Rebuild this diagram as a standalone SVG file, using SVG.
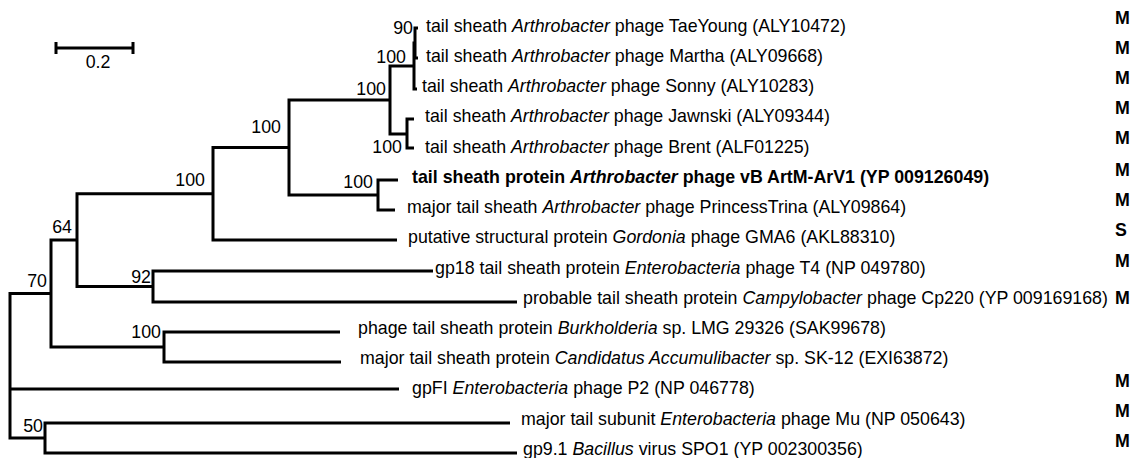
<svg xmlns="http://www.w3.org/2000/svg" width="1132" height="458" viewBox="0 0 1132 458">
<style>
text{font-family:"Liberation Sans",Arial,Helvetica,sans-serif;font-size:17.8px;fill:#000}
.n{text-anchor:end}
.m{font-weight:bold}
.i{font-style:italic}
.br{fill:none;stroke:#000;stroke-width:3;stroke-linejoin:miter}
</style>
<rect width="1132" height="458" fill="#fff"/>
<g id="scale">
<path class="br" d="M56,48 H133 M56,42 V54 M133,42 V54"/>
<text x="98" y="68" text-anchor="middle">0.2</text>
</g>
<g id="connectors">
<path class="br" d="M418,28 H415 V58 H418"/>
<path class="br" d="M415,43 H414 V89 H417"/>
<path class="br" d="M414,119 H407 V148 H414"/>
<path class="br" d="M414,66 H390 V134 H407"/>
<path class="br" d="M398,180 H378 V210 H395"/>
<path class="br" d="M390,100 H289 V195 H378"/>
<path class="br" d="M289,147.5 H213 V240 H397"/>
<path class="br" d="M433,271 H153 V302 H517"/>
<path class="br" d="M213,193.75 H77 V286.5 H153"/>
<path class="br" d="M340,332 H164 V362 H341"/>
<path class="br" d="M77,240 H51 V347 H164"/>
<path class="br" d="M510,423 H45 V453 H517"/>
<path class="br" d="M51,293.5 H10 V438 H45 M10,389 H399"/>
</g>
<g id="bootstrap">
<text class="n" x="413" y="34">90</text>
<text class="n" x="406" y="63">100</text>
<text class="n" x="386" y="95">100</text>
<text class="n" x="402" y="153">100</text>
<text class="n" x="281" y="133">100</text>
<text class="n" x="373" y="188">100</text>
<text class="n" x="205" y="186">100</text>
<text class="n" x="72" y="233">64</text>
<text class="n" x="151" y="283">92</text>
<text class="n" x="47" y="287">70</text>
<text class="n" x="161" y="338">100</text>
<text class="n" x="43" y="432">50</text>
</g>
<g id="leaf-taeyoung"><text x="426" y="31.5">tail sheath <tspan class="i">Arthrobacter</tspan> phage TaeYoung (ALY10472)</text></g>
<g id="leaf-martha"><text x="426" y="61.75">tail sheath <tspan class="i">Arthrobacter</tspan> phage Martha (ALY09668)</text></g>
<g id="leaf-sonny"><text x="422" y="92">tail sheath <tspan class="i">Arthrobacter</tspan> phage Sonny (ALY10283)</text></g>
<g id="leaf-jawnski"><text x="425" y="122.25">tail sheath <tspan class="i">Arthrobacter</tspan> phage Jawnski (ALY09344)</text></g>
<g id="leaf-brent"><text x="425" y="152.5">tail sheath <tspan class="i">Arthrobacter</tspan> phage Brent (ALF01225)</text></g>
<g id="leaf-arv1"><text class="m" x="412" y="182.75">tail sheath protein <tspan class="i">Arthrobacter</tspan> phage vB ArtM-ArV1 (YP 009126049)</text></g>
<g id="leaf-princesstrina"><text x="407" y="213">major tail sheath <tspan class="i">Arthrobacter</tspan> phage PrincessTrina (ALY09864)</text></g>
<g id="leaf-gma6"><text x="408" y="243.25">putative structural protein <tspan class="i">Gordonia</tspan> phage GMA6 (AKL88310)</text></g>
<g id="leaf-t4"><text x="435" y="273.5">gp18 tail sheath protein <tspan class="i">Enterobacteria</tspan> phage T4 (NP 049780)</text></g>
<g id="leaf-cp220"><text x="523" y="303.75">probable tail sheath protein <tspan class="i">Campylobacter</tspan> phage Cp220 (YP 009169168)</text></g>
<g id="leaf-burkholderia"><text x="358" y="334">phage tail sheath protein <tspan class="i">Burkholderia</tspan> sp. LMG 29326 (SAK99678)</text></g>
<g id="leaf-accumulibacter"><text x="360" y="364.25">major tail sheath protein <tspan class="i">Candidatus Accumulibacter</tspan> sp. SK-12 (EXI63872)</text></g>
<g id="leaf-p2"><text x="412" y="393.5">gpFI <tspan class="i">Enterobacteria</tspan> phage P2 (NP 046778)</text></g>
<g id="leaf-mu"><text x="521" y="424.75">major tail subunit <tspan class="i">Enterobacteria</tspan> phage Mu (NP 050643)</text></g>
<g id="leaf-spo1"><text x="523" y="455">gp9.1 <tspan class="i">Bacillus</tspan> virus SPO1 (YP 002300356)</text></g>
<g id="types">
<text class="m" x="1115" y="24">M</text>
<text class="m" x="1115" y="54">M</text>
<text class="m" x="1115" y="84">M</text>
<text class="m" x="1115" y="114">M</text>
<text class="m" x="1115" y="144">M</text>
<text class="m" x="1115" y="176">M</text>
<text class="m" x="1115" y="206">M</text>
<text class="m" x="1115" y="236">S</text>
<text class="m" x="1115" y="267">M</text>
<text class="m" x="1115" y="303.75">M</text>
<text class="m" x="1115" y="387">M</text>
<text class="m" x="1115" y="417">M</text>
<text class="m" x="1115" y="447">M</text>
</g>
</svg>
